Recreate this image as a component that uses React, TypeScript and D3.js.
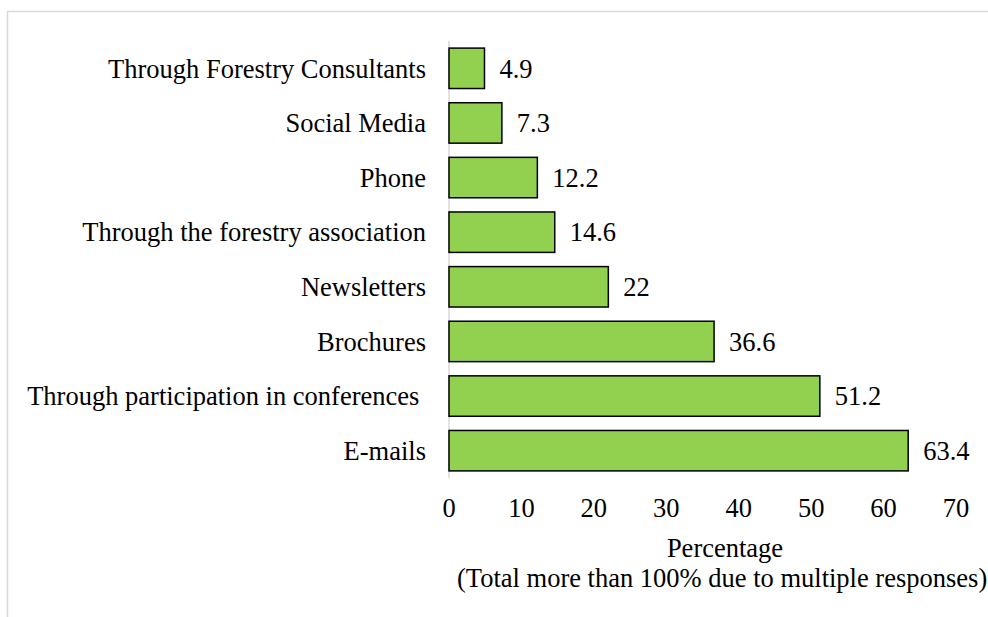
import React from "react";
import * as d3 from "d3";

const categories = [
  "Through Forestry Consultants",
  "Social Media",
  "Phone",
  "Through the forestry association",
  "Newsletters",
  "Brochures",
  "Through participation in conferences ",
  "E-mails",
];
const values = [4.9, 7.3, 12.2, 14.6, 22, 36.6, 51.2, 63.4];
const xTicks = [0, 10, 20, 30, 40, 50, 60, 70];
const xTitle = "Percentage";
const xSubtitle = "(Total more than 100% due to multiple responses)";

const W = 988;
const H = 617;
const font = "'Liberation Serif', 'Times New Roman', serif";
const fs = 26.5;

export default function App() {
  const x = d3.scaleLinear().domain([0, 70]).range([449, 956]);
  const y = d3.scaleBand().domain(categories).range([41, 478]).paddingInner(0.26).paddingOuter(0.13);
  return (
    <svg width={W} height={H} style={{ position: "absolute", left: 0, top: 0, background: "#fff" }}>
      <rect x={7.5} y={11.5} width={W + 10} height={H + 10} fill="#fff" stroke="#d9d9d9" strokeWidth={1.5} />
      <line x1={x(0)} x2={x(0)} y1={41} y2={478} stroke="#d9d9d9" strokeWidth={1.5} />
      {categories.map((c, i) => (
        <g key={c}>
          <rect
            x={x(0)}
            y={y(c)!}
            width={x(values[i]) - x(0)}
            height={y.bandwidth()}
            fill="#92D050"
            stroke="#000"
            strokeWidth={1.5}
          />
          <text
            x={426}
            y={y(c)! + y.bandwidth() / 2}
            dy="0.35em"
            textAnchor="end"
            fontFamily={font}
            fontSize={fs}
            style={{ whiteSpace: "pre" }}
            fill="#000"
          >
            {c}
          </text>
          <text
            x={x(values[i]) + 15}
            y={y(c)! + y.bandwidth() / 2}
            dy="0.35em"
            fontFamily={font}
            fontSize={fs}
            fill="#000"
          >
            {values[i]}
          </text>
        </g>
      ))}
      {xTicks.map((t) => (
        <text key={t} x={x(t)} y={508} dy="0.35em" textAnchor="middle" fontFamily={font} fontSize={fs} fill="#000">
          {t}
        </text>
      ))}
      <text x={725} y={548} dy="0.35em" textAnchor="middle" fontFamily={font} fontSize={fs} fill="#000">
        {xTitle}
      </text>
      <text x={457} y={578} dy="0.35em" textAnchor="start" fontFamily={font} fontSize={fs} fill="#000">
        {xSubtitle}
      </text>
    </svg>
  );
}
